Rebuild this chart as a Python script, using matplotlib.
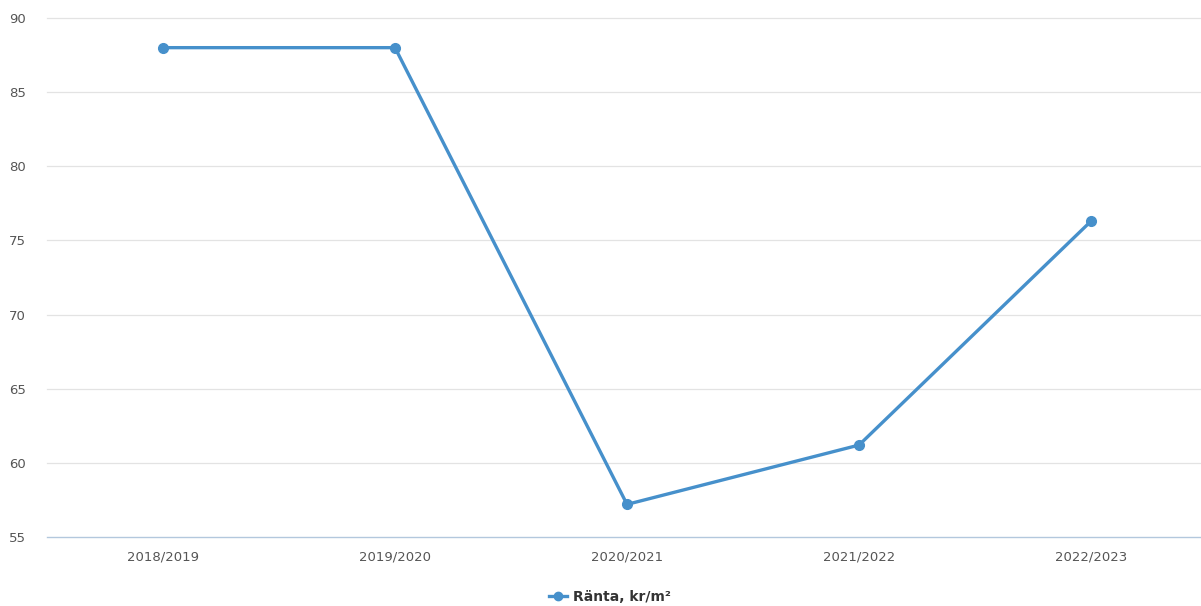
import matplotlib
matplotlib.use("Agg")
import matplotlib.pyplot as plt
from matplotlib.lines import Line2D

categories = ["2018/2019", "2019/2020", "2020/2021", "2021/2022", "2022/2023"]
values = [88.0, 88.0, 57.2, 61.2, 76.3]
series_name = "Ränta, kr/m²"
yticks = [55, 60, 65, 70, 75, 80, 85, 90]

W, H = 1201, 606
fig = plt.figure(figsize=(W / 100, H / 100), dpi=100)
fig.patch.set_facecolor("white")
ax = fig.add_axes([47 / W, (H - 537) / H, (1201 - 47) / W, (537 - 18) / H])

line_color = "#4690cb"
x = list(range(len(categories)))
ax.plot(x, values, color=line_color, linewidth=2.4, marker="o", markersize=7,
        solid_joinstyle="round", zorder=3, clip_on=False)

ax.set_xlim(-0.5, 4.474)
ax.set_ylim(55, 90)
ax.set_yticks(yticks)
ax.set_yticklabels([str(t) for t in yticks])
ax.set_xticks(x)
ax.set_xticklabels(categories)

for t in yticks[1:]:
    ax.axhline(t, color="#e3e3e3", linewidth=0.9, zorder=1, clip_on=False)
ax.axhline(55, color="#b3c8dd", linewidth=1.0, zorder=1, clip_on=False)

for s in ax.spines.values():
    s.set_visible(False)
ax.tick_params(axis="both", length=0, colors="#555555", labelsize=9.5)
ax.tick_params(axis="y", pad=15)
ax.tick_params(axis="x", pad=10)
for lbl in ax.get_yticklabels() + ax.get_xticklabels():
    lbl.set_color("#555555")

handle = Line2D([], [], color=line_color, linewidth=2.4, marker="o", markersize=6)
leg = fig.legend([handle], [series_name], loc="center", bbox_to_anchor=(610 / W, 1 - 597 / H),
                 frameon=False, handlelength=1.3, handletextpad=0.4,
                 prop={"weight": "bold", "size": 10})
for t in leg.get_texts():
    t.set_color("#333333")

fig.savefig("out.png", dpi=100, facecolor="white")
